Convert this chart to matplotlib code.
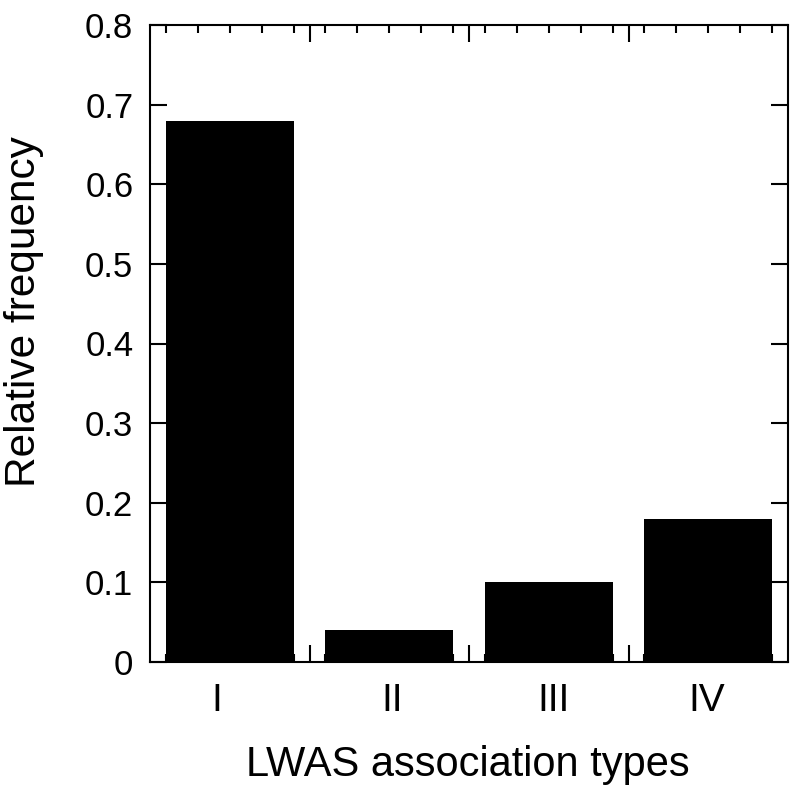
import matplotlib
matplotlib.use("Agg")
import matplotlib.pyplot as plt
from matplotlib.ticker import MultipleLocator, FixedLocator

categories = ["I", "II", "III", "IV"]
values = [0.68, 0.04, 0.10, 0.18]
label_shift = [-0.08, 0.02, 0.03, -0.01]
yticks = [0, 0.1, 0.2, 0.3, 0.4, 0.5, 0.6, 0.7, 0.8]
ytick_labels = ["0", "0.1", "0.2", "0.3", "0.4", "0.5", "0.6", "0.7", "0.8"]

plt.rcParams['font.family'] = ['Liberation Sans', 'DejaVu Sans']

fig = plt.figure(figsize=(7.92, 7.93), dpi=100)
ax = fig.add_axes([150/792, 1 - 662/793, (788-150)/792, (662-25)/793])

x = list(range(len(categories)))
ax.bar(x, values, width=0.8, color="black", zorder=1)

ax.set_xlim(-0.5, 3.5)
ax.set_ylim(0, 0.8)
ax.set_yticks(yticks)
ax.set_yticklabels(ytick_labels)

# x tick marks at category boundaries, labels at centers
ax.xaxis.set_major_locator(FixedLocator([0.5, 1.5, 2.5]))
ax.xaxis.set_minor_locator(MultipleLocator(0.2))
ax.set_xticklabels([])
for xi, lab, sh in zip(x, categories, label_shift):
    ax.text(xi + sh, -0.027, lab, ha="center", va="top", fontsize=28,
            transform=ax.transData)

ax.tick_params(axis="y", which="major", direction="in", left=True, right=True,
               length=12, width=1.5, labelsize=25, pad=12)
ax.tick_params(axis="x", which="major", direction="in", top=True, bottom=True,
               length=12, width=1.5)
ax.tick_params(axis="x", which="minor", direction="in", top=True, bottom=True,
               length=6, width=1.5)
for s in ax.spines.values():
    s.set_linewidth(1.5)

fig.text(4/792, 1 - 312/793, "Relative frequency", rotation=90,
         ha="left", va="center", fontsize=30.5)
fig.text(468/792, 1 - 776/793, "LWAS association types",
         ha="center", va="baseline", fontsize=30)

fig.savefig("out.png", dpi=100)
